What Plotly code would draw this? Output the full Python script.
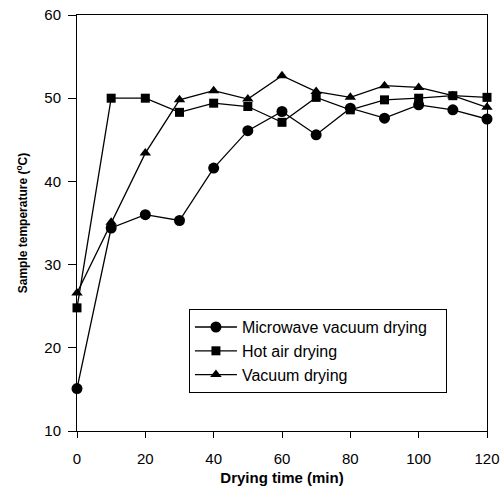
import plotly.graph_objects as go

time_min = [0, 10, 20, 30, 40, 50, 60, 70, 80, 90, 100, 110, 120]
microwave_vacuum = [15.1, 34.4, 36.0, 35.3, 41.6, 46.1, 48.4, 45.6, 48.8, 47.6, 49.2, 48.6, 47.5]
hot_air = [24.8, 50.0, 50.0, 48.3, 49.4, 49.0, 47.1, 50.1, 48.6, 49.8, 50.0, 50.3, 50.1]
vacuum = [26.6, 35.1, 43.4, 49.8, 50.9, 49.9, 52.7, 50.8, 50.1, 51.5, 51.3, 50.3, 48.9]

x_ticks = [0, 20, 40, 60, 80, 100, 120]
y_ticks = [10, 20, 30, 40, 50, 60]

series_names = ["Microwave vacuum drying", "Hot air drying", "Vacuum drying"]
series = [
    (series_names[0], microwave_vacuum, "circle", 11),
    (series_names[1], hot_air, "square", 9),
    (series_names[2], vacuum, "triangle-up", 10),
]

FONT = "Liberation Sans, Arial, sans-serif"

fig = go.Figure()
for i, (name, vals, sym, sz) in enumerate(series):
    label = name + ("\u00a0\u00a0\u00a0" if i == 0 else "")
    fig.add_trace(go.Scatter(
        x=time_min, y=vals, name=label, mode="lines+markers",
        line=dict(color="black", width=1.3),
        marker=dict(symbol=sym, size=sz, color="black"),
        cliponaxis=False,
    ))

axis_common = dict(
    showline=True, linecolor="black", linewidth=1, mirror=True,
    ticks="outside", tickcolor="black", tickwidth=1,
    showgrid=False, zeroline=False, automargin=False,
    tickfont=dict(family=FONT, size=15, color="black"),
)

fig.update_layout(
    width=504, height=494,
    margin=dict(l=77, r=17, t=15, b=63),
    paper_bgcolor="white", plot_bgcolor="white",
    showlegend=True,
    legend=dict(
        x=0.273, y=0.293, xanchor="left", yanchor="top",
        bordercolor="black", borderwidth=1, bgcolor="white",
        font=dict(family=FONT, size=16, color="black"),
        tracegroupgap=0, itemsizing="trace", itemwidth=42,
    ),
    xaxis=dict(
        range=[0, 120], tickvals=x_ticks, ticklen=6, ticklabelstandoff=8,
        **axis_common,
        title=dict(text="<b>Drying time (min)</b>", standoff=6,
                   font=dict(family=FONT, size=15, color="black")),
    ),
    yaxis=dict(
        range=[10, 60], tickvals=y_ticks, ticklen=8, ticklabelstandoff=4,
        **axis_common,
        title=dict(text="<b>Sample temperature (<sup>o</sup>C)</b>", standoff=14,
                   font=dict(family=FONT, size=12, color="black")),
    ),
)

fig.write_html("out.html")
